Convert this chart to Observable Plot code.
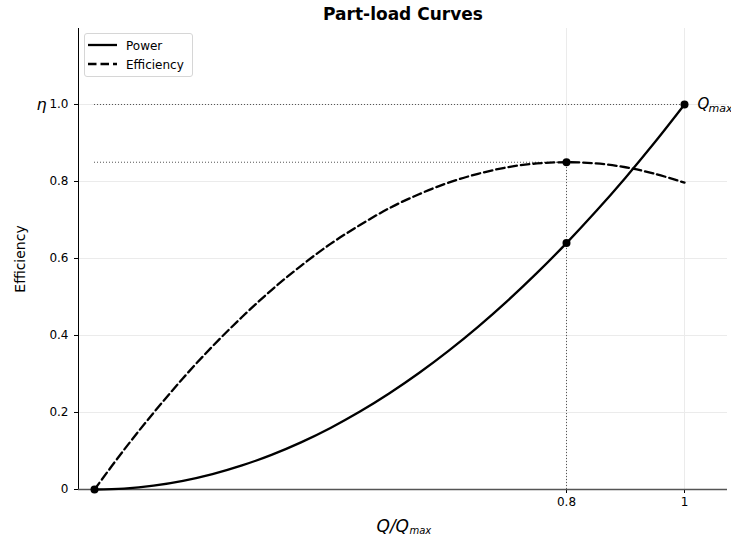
<!DOCTYPE html>
<html><head><meta charset="utf-8">
<script src="https://cdn.jsdelivr.net/npm/d3@7"></script>
<script src="https://cdn.jsdelivr.net/npm/@observablehq/plot@0.6"></script>
<style>
body{margin:0;background:#fff;font-family:"DejaVu Sans",sans-serif}
#wrap{position:relative;width:731px;height:537px;overflow:hidden}
#legend{position:absolute;left:84px;top:33px;width:109px;height:44px;border:1px solid #d6d6d6;border-radius:3px;background:rgba(255,255,255,0.85);box-sizing:border-box}
</style></head><body><div id="wrap"></div>
<script>
// Data
const flowRatio = [0,0.05,0.1,0.15,0.2,0.25,0.3,0.35,0.4,0.45,0.5,0.55,0.6,0.65,0.7,0.75,0.8,0.85,0.9,0.95,1.0];
const powerValues = [0,0.0025,0.01,0.0225,0.04,0.0625,0.09,0.1225,0.16,0.2025,0.25,0.3025,0.36,0.4225,0.49,0.5625,0.64,0.7225,0.81,0.9025,1.0];
const efficiencyValues = [0,0.103,0.199,0.289,0.372,0.448,0.518,0.581,0.638,0.687,0.731,0.767,0.797,0.820,0.837,0.847,0.85,0.847,0.837,0.820,0.797];
const markerX = [0,0.8,0.8,1];
const markerY = [0,0.64,0.85,1];
const yTickValues = [0,0.2,0.4,0.6,0.8,1.0];
const yTickLabels = ["0","0.2","0.4","0.6","0.8","1.0"];
const xTickValues = [0.8,1];
const xTickLabels = ["0.8","1"];
const seriesNames = ["Power","Efficiency"];
const refH = [{y:1.0,x1:0,x2:1},{y:0.85,x1:0,x2:0.8}];
const refV = [{x:0.8,y1:0,y2:0.85}];

const powerData = flowRatio.map((x,i)=>({x, y: powerValues[i]}));
const effData = flowRatio.map((x,i)=>({x, y: efficiencyValues[i]}));
const markers = markerX.map((x,i)=>({x, y: markerY[i]}));
const xMin = -0.02712, xMax = 1.07288, yMax = 1.1974;
const dash = "8.5,4";

const plot = Plot.plot({
  width: 731, height: 537,
  marginLeft: 78, marginRight: 4, marginTop: 28, marginBottom: 48,
  style: {fontFamily: "DejaVu Sans, sans-serif", fontSize: "12px", color: "#000", background: "transparent", overflow: "visible"},
  x: {domain: [xMin, xMax], ticks: xTickValues, tickFormat: d => xTickLabels[xTickValues.indexOf(d)], tickSize: 4, tickPadding: 4, label: null},
  y: {domain: [0, yMax], ticks: yTickValues, tickFormat: d => yTickLabels[yTickValues.indexOf(d)], tickSize: 4, tickPadding: 6, label: null},
  marks: [
    Plot.ruleY(yTickValues.slice(1), {stroke: "#ebebeb", strokeWidth: 1}),
    Plot.ruleX(xTickValues, {stroke: "#ebebeb", strokeWidth: 1}),
    Plot.ruleY(refH, {y: "y", x1: "x1", x2: "x2", stroke: "#555", strokeDasharray: "1,2", strokeWidth: 1}),
    Plot.ruleX(refV, {x: "x", y1: "y1", y2: "y2", stroke: "#555", strokeDasharray: "1,2", strokeWidth: 1}),
    Plot.ruleX([xMin], {stroke: "#000", strokeWidth: 1}),
    Plot.ruleY([0], {stroke: "#555", strokeWidth: 1.6}),
    Plot.line(powerData, {x: "x", y: "y", stroke: "#000", strokeWidth: 2.3, curve: "catmull-rom"}),
    Plot.line(effData, {x: "x", y: "y", stroke: "#000", strokeWidth: 2.3, strokeDasharray: dash, curve: "catmull-rom"}),
    Plot.dot(markers, {x: "x", y: "y", r: 4, fill: "#000", stroke: "none"}),
    Plot.text([{x: 1, y: 1}], {x: "x", y: "y", text: () => "Q", dx: 13, textAnchor: "start", fontSize: 15, fontStyle: "italic"}),
    Plot.text([{x: 1, y: 1}], {x: "x", y: "y", text: () => "max", dx: 24, dy: 4, textAnchor: "start", fontSize: 11, fontStyle: "italic"}),
    Plot.text([{x: xMin, y: 1}], {x: "x", y: "y", text: () => "η", dx: -37, fontSize: 16, fontStyle: "italic"}),
    Plot.text(["Part-load Curves"], {frameAnchor: "top", lineAnchor: "middle", textAnchor: "middle", dy: -14, text: d => d, fontSize: 17, fontWeight: "bold"}),
    Plot.text(["Efficiency"], {frameAnchor: "left", lineAnchor: "middle", textAnchor: "middle", dx: -58, rotate: -90, text: d => d, fontSize: 14}),
    Plot.text(["Q/Q"], {frameAnchor: "bottom", lineAnchor: "middle", dx: -26.5, dy: 37, textAnchor: "start", text: d => d, fontSize: 17, fontStyle: "italic"}),
    Plot.text(["max"], {frameAnchor: "bottom", lineAnchor: "middle", dx: 6.5, dy: 41, textAnchor: "start", text: d => d, fontSize: 10, fontStyle: "italic"})
  ]
});
const wrap = document.getElementById("wrap");
wrap.appendChild(plot);

// Legend
const leg = document.createElement("div");
leg.id = "legend";
wrap.appendChild(leg);
const ls = d3.select(leg).append("svg").attr("width", 107).attr("height", 42).style("position","absolute").style("left","0").style("top","0");
seriesNames.forEach((name, i) => {
  const y = 11 + i * 19;
  ls.append("line").attr("x1", 3).attr("x2", 32).attr("y1", y).attr("y2", y)
    .attr("stroke", "#000").attr("stroke-width", 2.3)
    .attr("stroke-dasharray", i === 1 ? dash : null);
  ls.append("text").attr("x", 41).attr("y", y + 4.5).attr("font-size", 12)
    .attr("font-family", "DejaVu Sans, sans-serif").text(name);
});
</script>
</body></html>
